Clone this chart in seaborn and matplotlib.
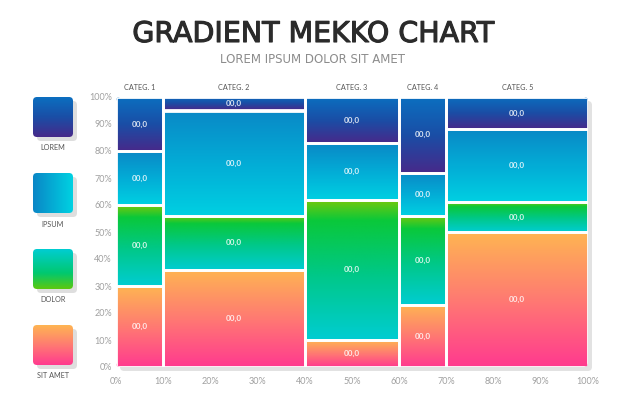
import numpy as np
import pandas as pd
import matplotlib
matplotlib.use('Agg')
import matplotlib.pyplot as plt
import matplotlib.transforms as mtransforms
import matplotlib.patheffects as pe
from matplotlib.patches import FancyBboxPatch
from matplotlib.colors import LinearSegmentedColormap, to_rgba
import seaborn as sns

# Data
categories = ['CATEG. 1', 'CATEG. 2', 'CATEG. 3', 'CATEG. 4', 'CATEG. 5']
widths = [10, 30, 20, 10, 30]  # share of x-axis (%)
segments = ['LOREM', 'IPSUM', 'DOLOR', 'SIT AMET']  # top -> bottom
sit_amet = [30, 36, 10, 23, 50]
dolor = [30, 20, 52, 33, 11]
ipsum = [20, 39, 21, 16, 27]
lorem = [20, 5, 17, 28, 12]
cell_label = '00,0'

# gradient stops (position, colour), top -> bottom
gradients = {
    'LOREM': [(0, '#0b6fc0'), (0.5, '#1a4ea6'), (1, '#47298a')],
    'IPSUM': [(0, '#0a88c6'), (0.5, '#03acd6'), (1, '#00d0e2')],
    'DOLOR': [(0, '#78c80a'), (0.15, '#0ac83a'), (0.55, '#00c88a'), (1, '#00cdd2')],
    'SIT AMET': [(0, '#feb552'), (0.5, '#ff7a72'), (1, '#ff3a8f')],
}
legend_grad = {
    'LOREM': [(0, '#0b6fc0'), (0.5, '#1a4ea6'), (1, '#47298a')],
    'IPSUM': [(0, '#0a86c6'), (1, '#00d2e2')],
    'DOLOR': [(0, '#00cdd2'), (0.6, '#00c870'), (1, '#5cc80e')],
    'SIT AMET': [(0, '#feb552'), (0.5, '#ff7a72'), (1, '#ff3a8f')],
}
key_colors = {'SIT AMET': '#ff0000', 'DOLOR': '#00ff00', 'IPSUM': '#0000ff', 'LOREM': '#ffff00'}

edges = [0] + list(np.cumsum(widths))
mids = [(a + b) / 2 for a, b in zip(edges[:-1], edges[1:])]
values = {'SIT AMET': sit_amet, 'DOLOR': dolor, 'IPSUM': ipsum, 'LOREM': lorem}
rows = []
for seg in segments:
    for c, m, v in zip(categories, mids, values[seg]):
        rows.append({'categ': c, 'mid': m, 'segment': seg, 'value': v})
df = pd.DataFrame(rows)

sns.set_style('white')
plt.rcParams['font.family'] = ['Lato', 'DejaVu Sans']

fig = plt.figure(figsize=(6.26, 4.17), dpi=100)
ax = fig.add_axes([116 / 626, 1 - 367 / 417, 472 / 626, 270 / 417])

# variable-width stacked bars (first hue level ends up on top)
sns.histplot(data=df, x='mid', weights='value', hue='segment', hue_order=segments,
             bins=[float(e) for e in edges], multiple='stack', stat='count', palette=key_colors,
             alpha=1, legend=False, ax=ax)
bars = list(ax.patches)

# rounded outline of the whole chart, used for clipping
clip = FancyBboxPatch((0, 0), 100, 100, boxstyle='round,pad=0,rounding_size=0.9',
                      mutation_aspect=1.75, transform=ax.transData,
                      facecolor='none', edgecolor='none')
ax.add_patch(clip)

shadow_tr = ax.transData + mtransforms.ScaledTranslation(4 / 100, -4 / 100, fig.dpi_scale_trans)
shadow = FancyBboxPatch((0, 0), 100, 100, boxstyle='round,pad=0,rounding_size=0.9',
                        mutation_aspect=1.75, transform=shadow_tr,
                        facecolor='#e2e2e2', edgecolor='none', zorder=0, clip_on=False)
ax.add_patch(shadow)

grad_img = np.linspace(0, 1, 256).reshape(-1, 1)
for p in bars:
    fc = p.get_facecolor()
    seg = min(segments, key=lambda s: np.sum((np.array(to_rgba(key_colors[s])) - np.array(fc)) ** 2))
    x, y, w, h = p.get_x(), p.get_y(), p.get_width(), p.get_height()
    cmap = LinearSegmentedColormap.from_list(seg, gradients[seg])
    im = ax.imshow(grad_img, cmap=cmap, extent=[x, x + w, y, y + h], origin='upper',
                   aspect='auto', interpolation='bilinear', zorder=1)
    im.set_clip_path(clip)
    p.set_facecolor('none')
    p.set_edgecolor('white')
    p.set_linewidth(2)
    p.set_zorder(2)
    p.set_clip_path(clip)
    ax.text(x + w / 2, y + h / 2, cell_label, ha='center', va='center', fontsize=5.8,
            fontweight='bold', color='white', alpha=0.85, zorder=3)

for c, m in zip(categories, mids):
    ax.text(m, 103.4, c, ha='center', va='center', fontsize=5.2, color='#555555', clip_on=False)

ax.set_xlim(0, 100)
ax.set_ylim(0, 100)
ticks = np.arange(0, 101, 10)
ax.set_xticks(ticks)
ax.set_yticks(ticks)
ax.set_xticklabels([f'{t}%' for t in ticks])
ax.set_yticklabels([f'{t}%' for t in ticks])
ax.tick_params(axis='both', length=0, labelsize=6.5, labelcolor='#a0a0a0')
ax.tick_params(axis='y', pad=3)
ax.tick_params(axis='x', pad=7)
ax.set_xlabel('')
ax.set_ylabel('')
sns.despine(ax=ax, left=True, bottom=True)
ax.patch.set_alpha(0)

# overlay for title and legend (pixel coordinates)
ov = fig.add_axes([0, 0, 1, 1], zorder=-1)
ov.set_xlim(0, 626)
ov.set_ylim(417, 0)
ov.axis('off')

ov.text(313, 34, 'GRADIENT MEKKO CHART', ha='center', va='center', fontsize=20.5,
        family='DejaVu Sans', color='#2b2b2b',
        path_effects=[pe.withStroke(linewidth=0.8, foreground='#2b2b2b')])
ov.text(313, 59, 'LOREM IPSUM DOLOR SIT AMET', ha='center', va='center', fontsize=8.5,
        family='DejaVu Sans', color='#8c8c8c')

sw_tops = [97, 173, 249, 325]
for seg, top in zip(segments, sw_tops):
    sh = FancyBboxPatch((37, top + 4), 40, 40, boxstyle='round,pad=0,rounding_size=4',
                        facecolor='#dedede', edgecolor='none', zorder=0)
    ov.add_patch(sh)
    box = FancyBboxPatch((33, top), 40, 40, boxstyle='round,pad=0,rounding_size=4',
                         facecolor='none', edgecolor='none', zorder=1)
    ov.add_patch(box)
    cmap = LinearSegmentedColormap.from_list('l' + seg, legend_grad[seg])
    img = grad_img.T if seg == 'IPSUM' else grad_img
    im = ov.imshow(img, cmap=cmap, extent=[33, 73, top + 40, top], origin='upper' if seg != 'IPSUM' else 'lower',
                   aspect='auto', interpolation='bilinear', zorder=1)
    im.set_clip_path(box)
    ov.text(53, top + 51, seg, ha='center', va='center', fontsize=5.2, color='#555555')
ov.set_xlim(0, 626)
ov.set_ylim(417, 0)

fig.savefig('out.png', dpi=100)
